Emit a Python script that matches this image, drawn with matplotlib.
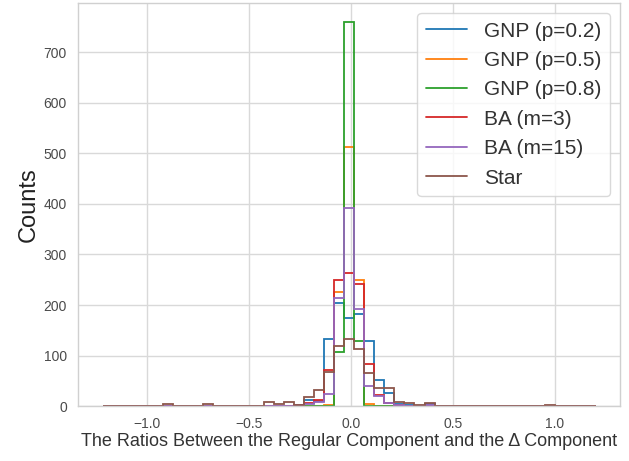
import numpy as np
import matplotlib
matplotlib.use("Agg")
import matplotlib.pyplot as plt

# histogram bins shared by all graph types
bin_edges = np.linspace(-1.22, 1.20, 50)

# counts per bin (49 bins)
gnp_02 = [0, 0, 0, 0, 0, 0, 0, 0, 0, 0, 0, 0, 0, 0, 0, 0, 0, 0, 1, 3,
          12, 10, 132, 205, 175, 182, 128, 51, 26, 5, 2, 1, 5, 0, 0, 0, 0, 0, 0, 0,
          0, 0, 0, 0, 0, 0, 0, 0, 0]
gnp_05 = [0, 0, 0, 0, 0, 0, 0, 0, 0, 0, 0, 0, 0, 0, 0, 0, 0, 0, 0, 0,
          0, 1, 2, 226, 512, 249, 4, 1, 0, 0, 0, 0, 0, 0, 0, 0, 0, 0, 0, 0,
          0, 0, 0, 0, 0, 0, 0, 0, 0]
gnp_08 = [0, 0, 0, 0, 0, 0, 0, 0, 0, 0, 0, 0, 0, 0, 0, 0, 0, 0, 0, 0,
          0, 0, 0, 107, 760, 128, 0, 0, 0, 0, 0, 0, 0, 0, 0, 0, 0, 0, 0, 0,
          0, 0, 0, 0, 0, 0, 0, 0, 0]
ba_3 = [0, 0, 0, 0, 0, 0, 0, 0, 0, 0, 0, 0, 0, 0, 0, 0, 0, 1, 1, 2,
        6, 12, 71, 249, 263, 242, 84, 22, 6, 3, 1, 1, 1, 0, 0, 0, 0, 0, 0, 0,
        0, 0, 0, 0, 0, 0, 0, 0, 0]
ba_15 = [0, 0, 0, 0, 0, 0, 0, 0, 0, 0, 0, 0, 0, 0, 0, 0, 0, 0, 0, 2,
         5, 8, 25, 213, 391, 193, 39, 20, 6, 2, 1, 1, 3, 0, 0, 0, 0, 0, 0, 0,
         0, 0, 0, 0, 0, 0, 0, 0, 0]
star = [1, 0, 0, 1, 1, 1, 4, 1, 1, 0, 4, 1, 1, 0, 1, 1, 9, 4, 9, 3,
        19, 31, 67, 119, 132, 114, 65, 35, 35, 9, 7, 2, 6, 1, 0, 1, 0, 1, 1, 0,
        1, 1, 0, 0, 2, 0, 0, 0, 1]

labels = ["GNP (p=0.2)", "GNP (p=0.5)", "GNP (p=0.8)", "BA (m=3)", "BA (m=15)", "Star"]
series = [gnp_02, gnp_05, gnp_08, ba_3, ba_15, star]
colors = ["#1f77b4", "#ff7f0e", "#2ca02c", "#d62728", "#9467bd", "#8c564b"]

plt.style.use("seaborn-v0_8-whitegrid")
plt.rcParams["font.family"] = ["Liberation Sans", "DejaVu Sans"]

fig, ax = plt.subplots(figsize=(6.29, 4.61), dpi=100)
fig.subplots_adjust(left=0.124, right=0.986, top=0.994, bottom=0.119)

for counts, label, color in zip(series, labels, colors):
    ax.stairs(counts, bin_edges, baseline=0, label=label, color=color, linewidth=1.3)

ax.set_yticks(range(0, 701, 100))
ax.set_xticks([-1.0, -0.5, 0.0, 0.5, 1.0])
ax.tick_params(labelsize=10, colors="#4a4a4a", pad=8)
for s in ax.spines.values():
    s.set_visible(True)
    s.set_color("#d0d0d0")
ax.grid(color="#d9d9d9", linewidth=1.0)

ax.set_xlabel("The Ratios Between the Regular Component and the \u0394 Component",
              fontsize=13, color="#333333", labelpad=1)
ax.set_ylabel("Counts", fontsize=17, color="#222222", labelpad=3)

leg = ax.legend(fontsize=15, loc="upper right", frameon=True, framealpha=0.8,
                edgecolor="#d0d0d0", fancybox=True)
for t in leg.get_texts():
    t.set_color("#333333")

fig.savefig("out.png", dpi=100)
